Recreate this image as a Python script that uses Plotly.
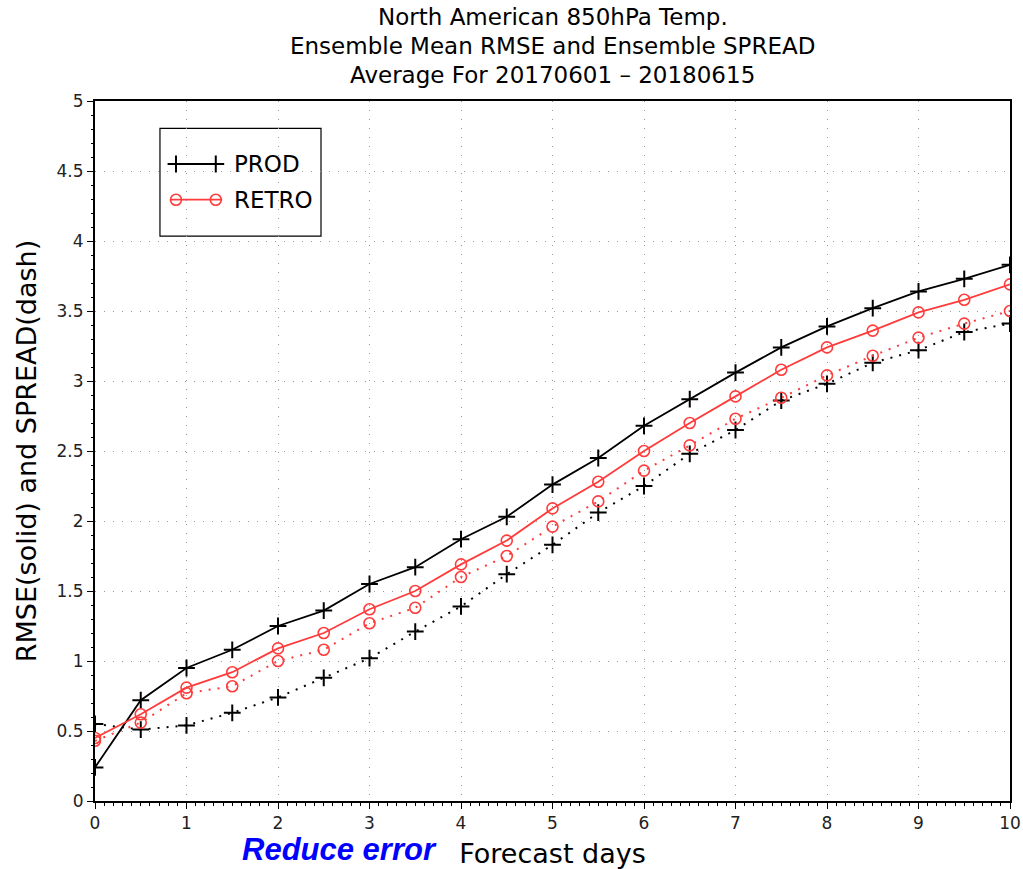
import plotly.graph_objects as go

# Forecast lead time (days)
days = [0, 0.5, 1, 1.5, 2, 2.5, 3, 3.5, 4, 4.5, 5, 5.5, 6, 6.5, 7, 7.5, 8, 8.5, 9, 9.5, 10]

# Ensemble mean RMSE (solid)
prod_rmse = [0.24, 0.72, 0.95, 1.08, 1.25, 1.36, 1.55, 1.67, 1.87, 2.03, 2.26,
             2.45, 2.68, 2.87, 3.06, 3.24, 3.39, 3.52, 3.64, 3.73, 3.83]
retro_rmse = [0.45, 0.62, 0.81, 0.92, 1.09, 1.20, 1.37, 1.50, 1.69, 1.86, 2.09,
              2.28, 2.50, 2.70, 2.89, 3.08, 3.24, 3.36, 3.49, 3.58, 3.69]

# Ensemble spread (dotted)
prod_spread = [0.55, 0.51, 0.54, 0.63, 0.74, 0.88, 1.02, 1.21, 1.39, 1.62, 1.83,
               2.06, 2.25, 2.48, 2.65, 2.86, 2.98, 3.13, 3.22, 3.35, 3.41]
retro_spread = [0.43, 0.56, 0.77, 0.82, 1.00, 1.08, 1.27, 1.38, 1.60, 1.75, 1.96,
                2.14, 2.36, 2.54, 2.73, 2.88, 3.04, 3.18, 3.31, 3.41, 3.50]

y_ticks = [0, 0.5, 1, 1.5, 2, 2.5, 3, 3.5, 4, 4.5, 5]
y_tick_text = ["0", "0.5", "1", "1.5", "2", "2.5", "3", "3.5", "4", "4.5", "5"]

title_lines = ["North American 850hPa Temp.",
               "Ensemble Mean RMSE and Ensemble SPREAD",
               "Average For 20170601 – 20180615"]

BLACK = "#000000"
RED = "#ff3b3b"
FONT = "DejaVu Sans"

plus = dict(symbol="cross-thin", size=12, color=BLACK, line=dict(width=2, color=BLACK))
ring = dict(symbol="circle-open", size=11, color=RED, line=dict(width=1.6, color=RED))
DOTTED = "2px,7px"

fig = go.Figure()

fig.add_trace(go.Scatter(x=days, y=prod_spread, mode="lines+markers",
                         line=dict(color=BLACK, width=2, dash=DOTTED), marker=plus))
fig.add_trace(go.Scatter(x=days, y=retro_spread, mode="lines+markers",
                         line=dict(color=RED, width=2, dash=DOTTED), marker=ring))
fig.add_trace(go.Scatter(x=days, y=prod_rmse, mode="lines+markers",
                         line=dict(color=BLACK, width=1.8), marker=plus))
fig.add_trace(go.Scatter(x=days, y=retro_rmse, mode="lines+markers",
                         line=dict(color=RED, width=1.8), marker=ring))

# Legend drawn by hand on an overlay axis spanning the plot area (0..1)
leg_line = [0.082, 0.139]
leg_marks = [0.0885, 0.132]
for ly, col, mk in [(0.910, BLACK, plus), (0.859, RED, ring)]:
    fig.add_trace(go.Scatter(x=leg_line, y=[ly, ly], mode="lines", xaxis="x2", yaxis="y2",
                             line=dict(color=col, width=1.8), hoverinfo="skip"))
    fig.add_trace(go.Scatter(x=leg_marks, y=[ly, ly], mode="markers", xaxis="x2", yaxis="y2",
                             marker=mk, hoverinfo="skip"))

fig.add_shape(type="rect", xref="paper", yref="paper", x0=0.071, x1=0.247, y0=0.807, y1=0.961,
              line=dict(color=BLACK, width=1.2), fillcolor="white", layer="below")

for ly, label in [(0.910, "PROD"), (0.859, "RETRO")]:
    fig.add_annotation(xref="paper", yref="paper", x=0.150, y=ly, text=label, showarrow=False,
                       xanchor="left", yanchor="middle", font=dict(family=FONT, size=23, color=BLACK))

# Three-line title, one annotation per line
for ly, line in zip([1.120, 1.0786, 1.0371], title_lines):
    fig.add_annotation(xref="paper", yref="paper", x=0.5, y=ly, text=line, showarrow=False,
                       xanchor="center", yanchor="middle", borderpad=0,
                       font=dict(family=FONT, size=23, color=BLACK))

fig.add_annotation(xref="paper", yref="paper", x=0.158, y=-0.0968, text="<b><i>Reduce error</i></b>",
                   showarrow=False, xanchor="left", yanchor="bottom",
                   font=dict(family="Liberation Sans", size=31, color="#0000ff"))

fig.update_layout(
    width=1023, height=869,
    margin=dict(l=95, r=13, t=101, b=68),
    paper_bgcolor="white", plot_bgcolor="white",
    showlegend=False,
    font=dict(family=FONT, color=BLACK),
    xaxis=dict(range=[0, 10], dtick=1, tick0=0, showgrid=True, gridcolor="#9a9a9a", griddash="1px,8px",
               gridwidth=1, zeroline=False, showline=True, linecolor=BLACK, linewidth=2, mirror=True,
               automargin=False,
               ticks="outside", ticklen=6, tickcolor=BLACK, tickfont=dict(size=17, color="#222222"),
               minor=dict(dtick=0.1, ticks="outside", ticklen=3, tickcolor=BLACK, showgrid=False),
               title=dict(text="Forecast days", font=dict(size=27, color=BLACK), standoff=14)),
    yaxis=dict(range=[0, 5], tickvals=y_ticks, ticktext=y_tick_text, showgrid=True, gridcolor="#9a9a9a",
               griddash="1px,8px", gridwidth=1, zeroline=False, showline=True, linecolor=BLACK, linewidth=2,
               mirror=True, automargin=False, ticks="outside", ticklen=6, tickcolor=BLACK,
               tickfont=dict(size=17, color="#222222"),
               minor=dict(dtick=0.1, ticks="outside", ticklen=2, tickcolor=BLACK, showgrid=False),
               title=dict(text="RMSE(solid) and SPREAD(dash)", font=dict(size=27, color=BLACK), standoff=12)),
    xaxis2=dict(range=[0, 1], overlaying="x", visible=False, fixedrange=True),
    yaxis2=dict(range=[0, 1], overlaying="y", visible=False, fixedrange=True),
)

fig.write_html("out.html")
